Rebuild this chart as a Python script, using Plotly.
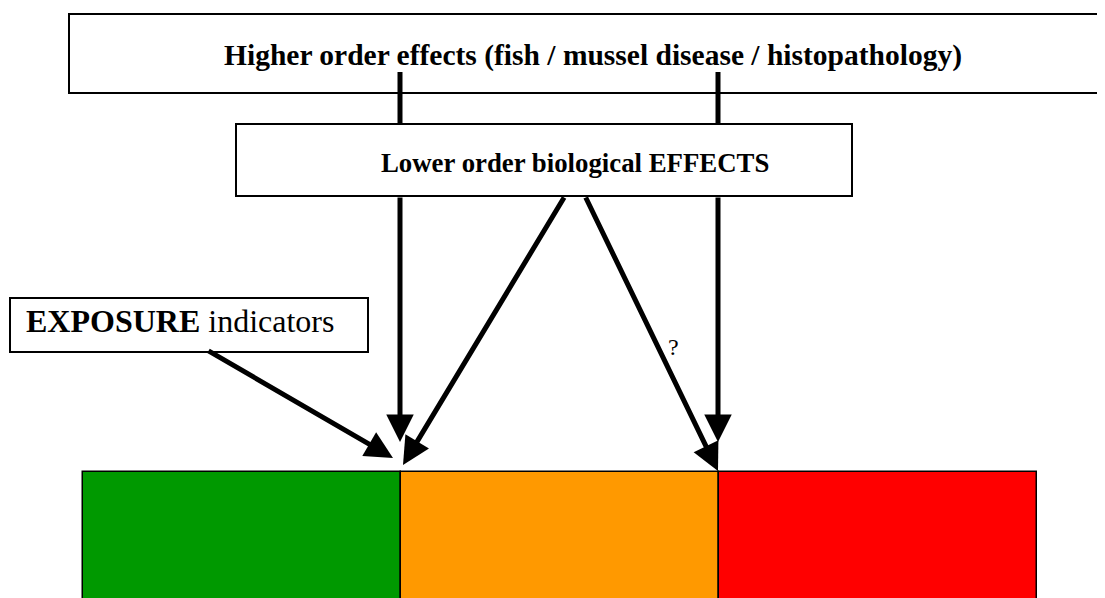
import plotly.graph_objects as go

#--------------------- Data
band_edges = [83, 401, 719, 1037]
band_colors = ["#009900", "#FF9900", "#FF0000"]
band_top, band_bottom = 472, 640

box_texts = ["<b>Higher order effects (fish / mussel disease / histopathology)</b>",
             "<b>Lower order biological EFFECTS</b>",
             "<b>EXPOSURE</b> indicators"]
box_x0 = [69, 236, 10]
box_x1 = [1108, 852, 368]
box_y0 = [14, 124, 298]
box_y1 = [93, 196, 352]

# arrows: tail -> tip
arrow_tail_x = [400, 718, 565, 585, 207]
arrow_tail_y = [196, 196, 196, 196, 350]
arrow_tip_x = [400, 718, 403, 718, 393]
arrow_tip_y = [442, 442, 465, 471, 458]

# connector lines from top box down to middle box
link_x = [400, 718]
link_y0, link_y1 = 72, 124

# page body has an 8px margin, so the plot starts at page pixel 8
off = 8

fig = go.Figure()

#--------------------- Coloured bands
for i, c in enumerate(band_colors):
    fig.add_trace(go.Bar(
        x=[band_edges[i + 1] - band_edges[i]], base=[band_edges[i]],
        y=[(band_top + band_bottom) / 2], width=[band_bottom - band_top],
        orientation="h", marker=dict(color=c, line=dict(color="black", width=1.5)),
        showlegend=False, hoverinfo="skip"))

#--------------------- Boxes
shapes = []
for x0, x1, y0, y1 in zip(box_x0, box_x1, box_y0, box_y1):
    shapes.append(dict(type="rect", xref="x", yref="y", x0=x0, x1=x1, y0=y0, y1=y1,
                       line=dict(color="black", width=2), fillcolor="white", layer="below"))
for lx in link_x:
    shapes.append(dict(type="line", xref="x", yref="y", x0=lx, x1=lx, y0=link_y0, y1=link_y1,
                       line=dict(color="black", width=5), layer="below"))

#--------------------- Texts
font = "Liberation Serif, Times New Roman, serif"
annotations = [
    dict(x=593, y=55, text=box_texts[0], showarrow=False, xanchor="center", yanchor="middle",
         font=dict(size=29.5, family=font, color="black")),
    dict(x=575, y=163, text=box_texts[1], showarrow=False, xanchor="center", yanchor="middle",
         font=dict(size=26.8, family=font, color="black")),
    dict(x=24, y=321, text=box_texts[2], showarrow=False, xanchor="left", yanchor="middle",
         font=dict(size=32, family=font, color="black")),
    dict(x=673, y=347, text="?", showarrow=False, xanchor="center", yanchor="middle",
         font=dict(size=24, family=font, color="black")),
]

#--------------------- Arrows
for tx, ty, hx, hy in zip(arrow_tail_x, arrow_tail_y, arrow_tip_x, arrow_tip_y):
    annotations.append(dict(
        x=hx, y=hy, ax=tx, ay=ty, xref="x", yref="y", axref="x", ayref="y",
        text="", showarrow=True, arrowhead=2, arrowsize=1.1, arrowwidth=5,
        arrowcolor="black", standoff=0, startstandoff=0))

fig.update_layout(
    width=1105 - off, height=598 - off,
    margin=dict(l=0, r=0, t=0, b=0),
    plot_bgcolor="white", paper_bgcolor="white",
    shapes=shapes, annotations=annotations,
    xaxis=dict(range=[off, 1105], visible=False, fixedrange=True),
    yaxis=dict(range=[598, off], visible=False, fixedrange=True),
    bargap=0)

fig.write_html("out.html", config=dict(displayModeBar=False))
